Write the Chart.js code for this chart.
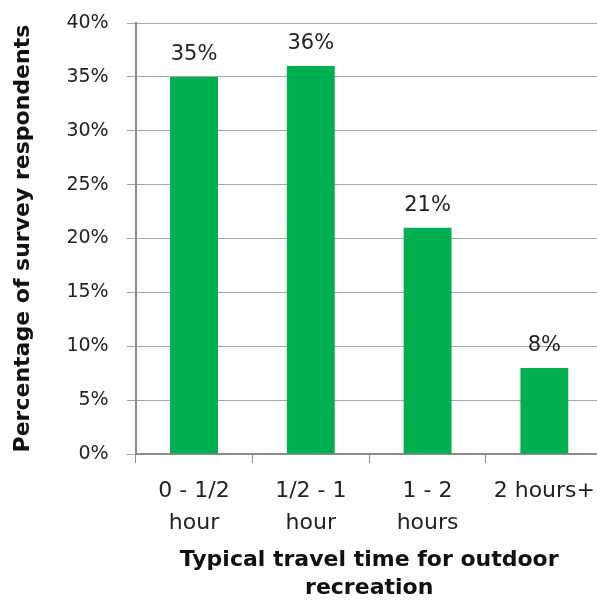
<!DOCTYPE html>
<html lang="en">
<head>
<meta charset="UTF-8">
<title>Typical travel time for outdoor recreation</title>
<script src="https://cdn.jsdelivr.net/npm/chart.js"></script>
<style>
    html, body { margin: 0; padding: 0; background: #fff; overflow: hidden; }
    .wrap { width: 607px; height: 602px; }
</style>
</head>
<body>
<div class="wrap"><canvas id="chart" width="607" height="602"></canvas></div>
<script>
// chart data
const categories = [['0 - 1/2', 'hour'], ['1/2 - 1', 'hour'], ['1 - 2', 'hours'], '2 hours+'];
const percentages = [35, 36, 21, 8];
const yTicks = [0, 5, 10, 15, 20, 25, 30, 35, 40];

const FONT = '"DejaVu Sans", sans-serif';

// draws the value above each bar
const valueLabels = {
    id: 'valueLabels',
    afterDatasetsDraw(chart) {
        const ctx = chart.ctx;
        const meta = chart.getDatasetMeta(0);
        ctx.save();
        ctx.font = '21px ' + FONT;
        ctx.fillStyle = '#222';
        ctx.textAlign = 'center';
        ctx.textBaseline = 'alphabetic';
        meta.data.forEach((bar, i) => {
            ctx.fillText(percentages[i] + '%', bar.x, bar.y - 17);
        });
        ctx.restore();
    }
};

new Chart(document.getElementById('chart'), {
    type: 'bar',
    data: {
        labels: categories,
        datasets: [{
            data: percentages,
            backgroundColor: '#00b050',
            categoryPercentage: 1,
            barPercentage: 0.41
        }]
    },
    options: {
        responsive: false,
        animation: false,
        layout: { padding: { left: 10, top: 0, right: 0, bottom: 0 } },
        plugins: { legend: { display: false }, tooltip: { enabled: false } },
        scales: {
            x: {
                grid: { display: true, drawOnChartArea: false, color: '#8c8c8c', tickLength: 9, offset: true },
                border: { color: '#8c8c8c', width: 2 },
                ticks: { color: '#222', font: { family: FONT, size: 22, lineHeight: 1.4545 }, padding: 12, maxRotation: 0 },
                title: {
                    display: true,
                    text: ['Typical travel time for outdoor', 'recreation'],
                    color: '#111',
                    font: { family: FONT, size: 22, weight: 'bold', lineHeight: 1.27 },
                    padding: { top: -5, bottom: 0 }
                }
            },
            y: {
                min: 0,
                max: 40,
                afterBuildTicks(axis) { axis.ticks = yTicks.map(v => ({ value: v })); },
                afterFit(axis) { axis.paddingTop = 23; },
                grid: { color: '#a6a6a6', tickLength: 9 },
                border: { color: '#8c8c8c', width: 2 },
                ticks: {
                    color: '#222',
                    font: { family: FONT, size: 19 },
                    padding: 18,
                    callback: v => v + '%'
                },
                title: {
                    display: true,
                    text: 'Percentage of survey respondents',
                    color: '#111',
                    font: { family: FONT, size: 22, weight: 'bold' },
                    padding: { top: 0, bottom: 12 }
                }
            }
        }
    },
    plugins: [valueLabels]
});
</script>
</body>
</html>
